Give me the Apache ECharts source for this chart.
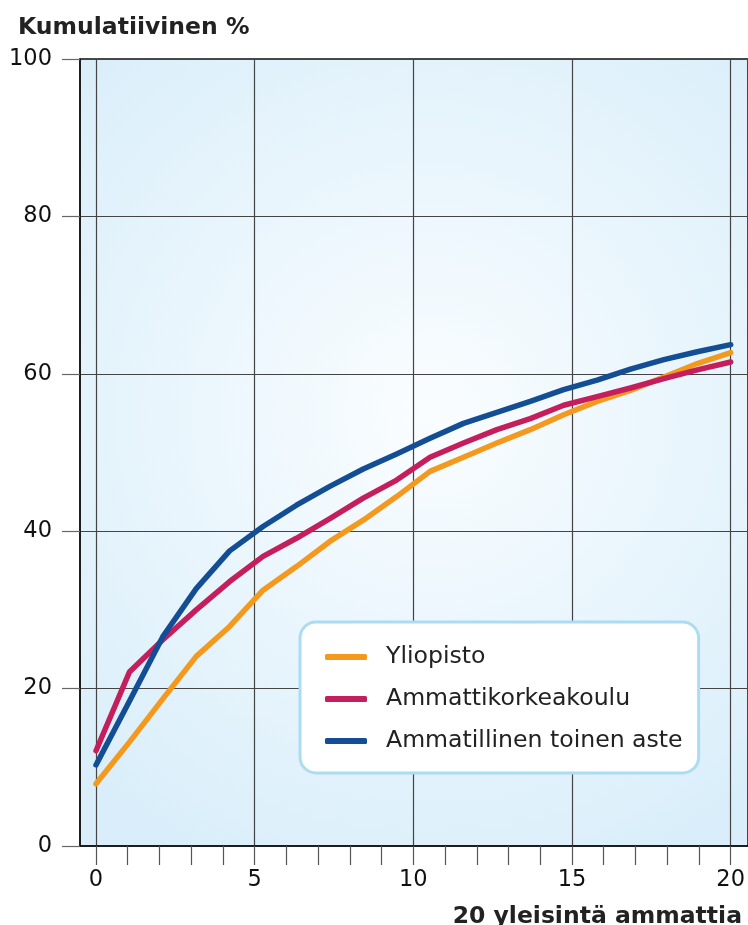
<!DOCTYPE html>
<html>
<head>
<meta charset="utf-8">
<script src="https://cdn.jsdelivr.net/npm/echarts@6/dist/echarts.min.js"></script>
<style>
html,body{margin:0;padding:0;background:#fff;}
#chart{width:748px;height:925px;}
</style>
</head>
<body>
<div id="chart"></div>
<script>
// Ranks of the 20 most common occupations (cumulative)
var ranks = ['1','2','3','4','5','6','7','8','9','10','11','12','13','14','15','16','17','18','19','20'];
var seriesNames = ['Yliopisto', 'Ammattikorkeakoulu', 'Ammatillinen toinen aste'];
var yliopisto = [7.9, 13.2, 18.7, 24.1, 27.9, 32.5, 35.5, 38.7, 41.4, 44.4, 47.6, 49.4, 51.2, 52.9, 54.8, 56.5, 57.9, 59.6, 61.3, 62.7];
var amk = [12.1, 22.1, 26.2, 30.0, 33.6, 36.8, 39.1, 41.6, 44.2, 46.5, 49.4, 51.2, 52.9, 54.3, 56.0, 57.1, 58.2, 59.4, 60.5, 61.5];
var ammatillinen = [10.3, 18.4, 26.6, 32.7, 37.5, 40.6, 43.3, 45.7, 47.9, 49.8, 51.8, 53.7, 55.1, 56.5, 58.0, 59.2, 60.6, 61.8, 62.8, 63.7];
var yTicks = {min: 0, max: 100, interval: 20};
var xTicks = {min: 0, max: 20, minor: 1, major: 5};
var titleText = 'Kumulatiivinen %';
var xName = '20 yleisintä ammattia';

var colors = ['#f39a1e', '#c41f5c', '#134e94'];
var FONT = 'DejaVu Sans';
var chart = echarts.init(document.getElementById('chart'), null, {renderer: 'canvas'});

var option = {
  animation: false,
  textStyle: {fontFamily: FONT},
  title: [
    {text: titleText, left: 13, top: 11,
     textStyle: {fontFamily: FONT, fontSize: 23.5, fontWeight: 'bold', color: '#222'}},
    {text: xName, right: 1, top: 900,
     textStyle: {fontFamily: FONT, fontSize: 23.5, fontWeight: 'bold', color: '#222'}}
  ],
  grid: [
    {left: 80, right: -6, top: 59, bottom: 79, show: true, borderColor: '#111', borderWidth: 1.5,
     backgroundColor: new echarts.graphic.RadialGradient(0.52, 0.45, 0.75, [
       {offset: 0, color: '#fafdff'},
       {offset: 1, color: '#d9eefa'}
     ])},
    {left: 96, right: 16, top: 59, bottom: 79}
  ],
  xAxis: [
    {gridIndex: 0, type: 'value', position: 'bottom', min: 0, max: 1, show: true,
     axisLine: {show: true, lineStyle: {color: '#111', width: 1.5}},
     axisTick: {show: false}, axisLabel: {show: false}, splitLine: {show: false}},
    {gridIndex: 1, type: 'value', position: 'bottom', min: xTicks.min, max: xTicks.max, interval: xTicks.minor,
     axisLine: {show: false},
     axisTick: {show: true, inside: false, length: 19, lineStyle: {color: '#555', width: 1.2}},
     axisLabel: {show: false}, splitLine: {show: false}},
    {gridIndex: 1, type: 'value', position: 'bottom', offset: 0, min: xTicks.min, max: xTicks.max, interval: xTicks.major,
     axisLine: {show: false}, axisTick: {show: false},
     axisLabel: {show: true, margin: 23, fontSize: 22.5, color: '#111', fontFamily: FONT},
     splitLine: {show: true, lineStyle: {color: '#444', width: 1.2}}},
    {gridIndex: 1, type: 'category', position: 'bottom', data: ranks, boundaryGap: false, show: false}
  ],
  yAxis: [
    {gridIndex: 0, type: 'value', min: yTicks.min, max: yTicks.max, interval: yTicks.interval,
     axisLine: {show: true, lineStyle: {color: '#111', width: 1.5}},
     axisTick: {show: true, length: 18, lineStyle: {color: '#666', width: 1.2}},
     axisLabel: {margin: 28, fontSize: 22.5, color: '#111', fontFamily: FONT},
     splitLine: {show: true, lineStyle: {color: '#444', width: 1.2}}},
    {gridIndex: 1, type: 'value', min: yTicks.min, max: yTicks.max, show: false}
  ],
  legend: {
    left: 300, top: 622, orient: 'vertical',
    backgroundColor: '#fff', borderColor: '#acdcf2', borderWidth: 3, borderRadius: 16,
    padding: [22, 16, 19, 25],
    itemWidth: 42, itemHeight: 6, itemGap: 16, icon: 'roundRect',
    textStyle: {fontFamily: FONT, fontSize: 23.6, color: '#222', padding: [0, 0, 0, 14], lineHeight: 26},
    data: seriesNames
  },
  series: [
    {name: seriesNames[0], data: yliopisto},
    {name: seriesNames[1], data: amk},
    {name: seriesNames[2], data: ammatillinen}
  ].map(function (s, i) {
    return {
      name: s.name, type: 'line', xAxisIndex: 3, yAxisIndex: 1, data: s.data,
      symbol: 'none', smooth: false, color: colors[i],
      lineStyle: {width: 5.5, color: colors[i], cap: 'round', join: 'round'},
      z: 3 + i
    };
  })
};
chart.setOption(option);
</script>
</body>
</html>
